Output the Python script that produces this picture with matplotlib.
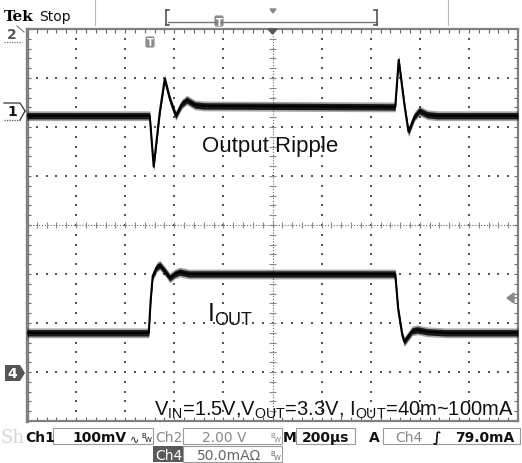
import matplotlib
matplotlib.use('Agg')

import matplotlib.pyplot as plt
from matplotlib.patches import Rectangle, Polygon, FancyBboxPatch
import numpy as np

plt.rcParams.update({
    'font.family': 'Liberation Sans',
    'mathtext.fontset': 'custom',
    'mathtext.rm': 'Liberation Sans',
    'mathtext.it': 'Liberation Sans',
})

# ── scope settings ───────────────────────────────────────────────────────────
US_PER_DIV = 200          # M 200us
CH1_MV_PER_DIV = 100      # Ch1 100mV
CH4_MA_PER_DIV = 50       # Ch4 50.0mA
CH1_OFFSET_DIV = 2.33     # ground marker "1"
CH4_OFFSET_DIV = -3.0     # ground marker "4"

# ── Ch1 output ripple (time from trigger in us, mV) ─────────────────────────
ch1_t  = [-500, 0, 16, 41, 61, 82, 106, 131, 151, 184, 220,
          1000, 1014, 1038, 1054, 1078, 1098, 1131, 1170, 1500]
ch1_mv = [-10, -10, -114, -2, 65, 24, -10, 14, 22, 12, 10,
          8, 104, 10, -43, -12, 0, -8, -10, -10]

# ── Ch4 load current (time from trigger in us, mA) ──────────────────────────
ch4_t  = [-500, -4, 4, 12, 29, 41, 61, 82, 102, 122, 160,
          1000, 1012, 1029, 1037, 1069, 1090, 1131, 1204, 1500]
ch4_ma = [40, 40, 74, 98, 107, 109, 103, 96, 100, 102, 100,
          100, 64, 37, 31, 42, 43, 41, 40, 40]

W, H = 522, 464
GL, GR, GT, GB = 27, 518, 30, 422
DARK = '#111111'
GRAY = '#808080'

fig = plt.figure(figsize=(W / 100, H / 100), dpi=100, facecolor='white')

# ── graticule ────────────────────────────────────────────────────────────────
ax = fig.add_axes([GL / W, 1 - GB / H, (GR - GL) / W, (GB - GT) / H])
ax.set_xlim(-500, 1500)
ax.set_ylim(-4, 4)
ax.set_facecolor('white')
for side, sp in ax.spines.items():
    sp.set_color(GRAY)
    sp.set_linewidth(2.4 if side == 'left' else 1.6)
ax.set_xticks(np.arange(-500, 1501, 200))
ax.set_xticks(np.arange(-500, 1501, 40), minor=True)
ax.set_yticks(np.arange(-4, 4.01, 1))
ax.set_yticks(np.arange(-4, 4.01, 0.2), minor=True)
ax.tick_params(which='both', direction='in', top=True, right=True,
               length=2.6, width=0.8, color='#666666',
               labelleft=False, labelbottom=False)

gx, gy = [], []
for xv in np.arange(-300, 1400, 200):
    if xv == 500:
        continue
    yy = np.arange(-4, 4.01, 0.2)
    gx += [xv] * len(yy)
    gy += list(yy)
for yv in range(-3, 4):
    if yv == 0:
        continue
    xx = np.arange(-500, 1501, 40)
    gx += list(xx)
    gy += [yv] * len(xx)
ax.scatter(gx, gy, s=1.4, marker='s', color='#555555', linewidths=0, zorder=1)

# center cross with small ticks
ax.plot([500, 500], [-4, 4], color='#666666', lw=0.8, ls=(0, (1, 1.6)), zorder=1)
ax.plot([-500, 1500], [0, 0], color='#666666', lw=0.8, ls=(0, (1, 1.6)), zorder=1)
ax.hlines(np.arange(-4, 4.01, 0.2), 500 - 14, 500 + 14, color='#888888', lw=0.8, zorder=1)
ax.vlines(np.arange(-500, 1501, 40), -0.07, 0.07, color='#888888', lw=0.8, zorder=1)


def trace(t, y):
    t = np.asarray(t, float)
    y = np.asarray(y, float)
    ax.fill_between(t, y - 0.10, y + 0.10, color='black', alpha=0.35, lw=0, zorder=3)
    ax.fill_between(t, y - 0.065, y + 0.065, color='#0a0a0a', alpha=0.9, lw=0, zorder=3)
    ax.plot(t, y, color='black', lw=1.5, zorder=4)


trace(ch1_t, np.asarray(ch1_mv) / CH1_MV_PER_DIV + CH1_OFFSET_DIV)
trace(ch4_t, np.asarray(ch4_ma) / CH4_MA_PER_DIV + CH4_OFFSET_DIV)

# ── overlay in pixel coords ──────────────────────────────────────────────────
ov = fig.add_axes([0, 0, 1, 1])
ov.set_xlim(0, W)
ov.set_ylim(H, 0)
ov.axis('off')

ov.text(270, 152, 'Output Ripple', fontsize=16, ha='center', va='baseline', color=DARK)
ov.text(208, 321, 'I', fontsize=18, ha='left', va='baseline', color=DARK)
ov.text(214, 325, 'OUT', fontsize=13, ha='left', va='baseline', color=DARK)
ov.text(514, 416, r'V$_{\rm IN}$=1.5V,V$_{\rm OUT}$=3.3V, I$_{\rm OUT}$=40m~100mA',
        fontsize=14.5, ha='right', va='baseline', color=DARK)

# top bar
ov.text(4, 21, 'Tek', fontsize=11, fontweight='bold', family='DejaVu Serif',
        ha='left', va='baseline', color='black')
ov.text(39, 21, 'Stop', fontsize=10, family='DejaVu Sans', ha='left', va='baseline', color=DARK)
for xs in (95, 448):
    ov.plot([xs, xs], [0, 26], color='#bbbbbb', lw=0.8)
ov.plot([168, 377], [23, 23], color='#777777', lw=1)
ov.plot([166, 166], [11, 26], color='#555555', lw=1.2)
ov.plot([166, 169], [11, 11], color='#555555', lw=1.2)
ov.plot([166, 169], [26, 26], color='#555555', lw=1.2)
ov.plot([377, 377], [11, 26], color='#555555', lw=1.2)
ov.plot([374, 377], [11, 11], color='#555555', lw=1.2)
ov.plot([374, 377], [26, 26], color='#555555', lw=1.2)
ov.add_patch(Polygon([[270, 10], [276, 10], [273, 14]], closed=True, color='#888888'))
ov.add_patch(Polygon([[268, 30], [277, 30], [272.5, 35]], closed=True, color='#555555'))


def tbadge(x, y):
    ov.add_patch(FancyBboxPatch((x - 4, y - 5), 8, 10,
                                boxstyle='round,pad=0.6,rounding_size=2',
                                fc='#8c8c8c', ec='none'))
    ov.text(x, y + 0.5, 'T', fontsize=7, fontweight='bold', family='DejaVu Sans',
            color='white', ha='center', va='center')


tbadge(219, 22)
tbadge(150, 43)

# left channel markers
ov.plot([4, 20, 25], [104, 104, 112], color='#333333', lw=0.9)
ov.plot([25, 20], [112, 121], color='#333333', lw=0.9)
ov.plot([4, 20], [121, 121], color='#555555', lw=0.9, ls=(0, (1, 1)))
ov.text(12, 112.5, '1', fontsize=10, fontweight='bold', family='DejaVu Sans',
        color=DARK, ha='center', va='center')

ov.plot([17, 24], [27, 33], color='#777777', lw=0.8)
ov.plot([4, 22], [43, 43], color='#777777', lw=0.9, ls=(0, (1, 1)))
ov.text(12, 35, '2', fontsize=10, fontweight='bold', family='DejaVu Sans',
        color='#555555', ha='center', va='center')

ov.add_patch(Polygon([[5, 366], [20, 366], [25, 374], [20, 382], [5, 382]],
                     closed=True, fc='#555555', ec='none'))
ov.text(12.5, 374.5, '4', fontsize=10, fontweight='bold', family='DejaVu Sans',
        color='white', ha='center', va='center')

# trigger level arrow
ov.add_patch(Polygon([[507, 299], [514, 294], [514, 304]], closed=True, color='#888888'))
ov.plot([512, 518], [299, 299], color='#888888', lw=1.2)

# ── status bar ───────────────────────────────────────────────────────────────
ov.text(0, 443, 'Sh', fontsize=13, family='DejaVu Serif', color='#d6d6d6',
        ha='left', va='baseline', zorder=0)

boxes = [(53, 429, 100, 16), (183, 429, 99, 16), (296, 429, 59, 16),
         (383, 429, 137, 16), (183, 447, 99, 16)]
for (bx, by, bw, bh) in boxes:
    ov.add_patch(Rectangle((bx, by), bw, bh, fc='white', ec='#9a9a9a', lw=0.8, zorder=1))
ov.add_patch(Rectangle((153, 447), 30, 16, fc='#5a5a5a', ec='none', zorder=1))

fs = 10
row1, row2 = 442.5, 460.5
kw = dict(family='DejaVu Sans', fontsize=fs, va='baseline', zorder=2)
ov.text(25.5, row1, 'Ch1', fontweight='bold', color=DARK, **kw)
ov.text(72, row1, '100mV', fontweight='bold', color=DARK, **kw)
ov.text(130, row1, '∿', color=DARK, family='DejaVu Sans', fontsize=8, va='baseline', zorder=2)
ov.text(141, row1 - 4, 'B', color=DARK, family='DejaVu Sans', fontsize=5, va='baseline', zorder=2)
ov.text(145, row1, 'W', color=DARK, family='DejaVu Sans', fontsize=5, va='baseline', zorder=2)
ov.text(155, row1, 'Ch2', color='#8a8a8a', **kw)
ov.text(202, row1, '2.00 V', color='#8a8a8a', **kw)
ov.text(270, row1 - 4, 'B', color='#8a8a8a', family='DejaVu Sans', fontsize=5, va='baseline', zorder=2)
ov.text(274, row1, 'W', color='#8a8a8a', family='DejaVu Sans', fontsize=5, va='baseline', zorder=2)
ov.text(283, row1, 'M', fontweight='bold', color=DARK, **kw)
ov.text(302, row1, '200µs', fontweight='bold', color=DARK, **kw)
ov.text(369, row1, 'A', fontweight='bold', color=DARK, **kw)
ov.text(395, row1, 'Ch4', color='#8a8a8a', **kw)
ov.text(433, row1, '∫', fontweight='bold', color=DARK, **kw)
ov.text(455, row1, '79.0mA', fontweight='bold', color=DARK, **kw)
ov.text(155, row2, 'Ch4', color='white', **kw)
ov.text(197, row2, '50.0mAΩ', color='#666666', **kw)
ov.text(270, row2 - 4, 'B', color='#666666', family='DejaVu Sans', fontsize=5, va='baseline', zorder=2)
ov.text(274, row2, 'W', color='#666666', family='DejaVu Sans', fontsize=5, va='baseline', zorder=2)

fig.savefig('out.png', dpi=100, facecolor='white')
